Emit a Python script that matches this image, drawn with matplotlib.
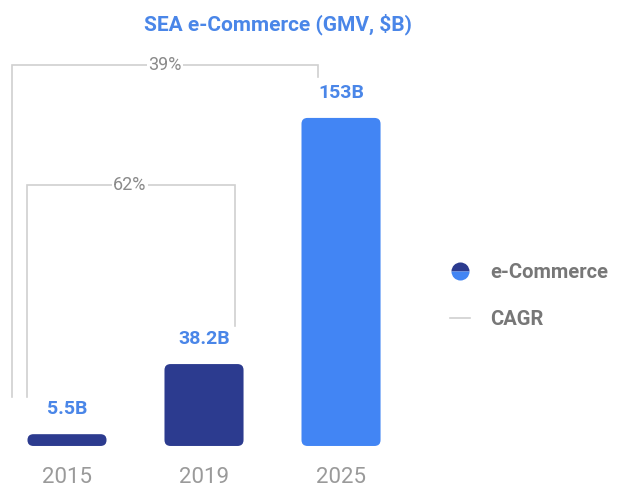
import numpy as np
import matplotlib.pyplot as plt
from matplotlib.patches import FancyBboxPatch
from matplotlib.lines import Line2D

plt.rcParams['font.family'] = ['Roboto', 'DejaVu Sans']

# Data
years = ['2015', '2019', '2025']
gmv = [5.5, 38.2, 153]
value_labels = ['5.5B', '38.2B', '153B']
bar_colors = ['#2c3b8f', '#2c3b8f', '#4285f4']

# CAGR brackets: (start index, end index, label)
cagr = [(0, 1, '62%'), (0, 2, '39%')]

navy = '#2c3b8f'
light_blue = '#4285f4'
label_blue = '#4a86e8'
grey_line = '#d0d0d0'

fig = plt.figure(figsize=(6.23, 4.97), dpi=100)
ax = fig.add_axes([0, 0, 1, 1])
ax.set_xlim(-0.489, 4.058)
ax.set_ylim(-23.8, 208.0)
ax.axis('off')

x = np.arange(len(years))
bar_w = 0.577
# rounding: x-units per px vs y-units per px
px_x = 1 / 137.0
px_y = 1 / 2.144
aspect = px_y / px_x

for xi, v, c in zip(x, gmv, bar_colors):
    r = min(6 * px_x, v / aspect / 2)
    patch = FancyBboxPatch((xi - bar_w / 2, 0), bar_w, v,
                           boxstyle=f"round,pad=0,rounding_size={r}",
                           mutation_aspect=aspect, fc=c, ec='none')
    ax.add_patch(patch)

for xi, v, lab in zip(x, gmv, value_labels):
    ax.annotate(lab, (xi, v), xytext=(0, 18), textcoords='offset points',
                ha='center', va='center', fontsize=14, fontweight='bold',
                color=label_blue)
    ax.annotate(years[xi], (xi, 0), xytext=(0, -23), textcoords='offset points',
                ha='center', va='center', fontsize=16, color='#9a9a9a')

# CAGR brackets (bar index -> bracket ends)
bracket_specs = {
    '62%': dict(left=-0.292, right=1.226, top=121.7, bottom_left=22.9, bottom_right=56.0, tx=0.46),
    '39%': dict(left=-0.40, right=1.832, top=177.7, bottom_left=22.9, bottom_right=172.0, tx=0.715),
}
for i0, i1, lab in cagr:
    s = bracket_specs[lab]
    ax.plot([s['left'], s['left'], s['right'], s['right']],
            [s['bottom_left'], s['top'], s['top'], s['bottom_right']],
            color=grey_line, lw=1.2, solid_joinstyle='miter', zorder=1)
    ax.text(s['tx'], s['top'], lab, ha='center', va='center', fontsize=13,
            color='#8a8a8a', zorder=2,
            bbox=dict(fc='white', ec='none', pad=1))

# Title
fig.text(0.446, 0.951, 'SEA e-Commerce (GMV, $B)', ha='center', va='center',
         fontsize=15, fontweight='bold', color=label_blue)

# Legend
handles = [
    Line2D([], [], marker='o', linestyle='none', markersize=13,
           fillstyle='top', markerfacecolor=navy, markerfacecoloralt=light_blue,
           markeredgewidth=0),
    Line2D([], [], color=grey_line, lw=1.2),
]
leg = fig.legend(handles, ['e-Commerce', 'CAGR'], loc='center left',
                 bbox_to_anchor=(0.693, 0.404), frameon=False,
                 handlelength=1.0, handletextpad=1.0, labelspacing=1.4,
                 prop=dict(size=14.5, weight='bold'))
for t in leg.get_texts():
    t.set_color('#777777')

fig.savefig('out.png', dpi=100)
